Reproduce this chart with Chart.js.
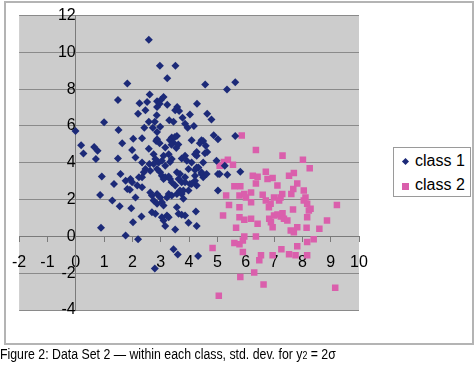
<!DOCTYPE html>
<html>
<head>
<meta charset="utf-8">
<script src="https://cdn.jsdelivr.net/npm/chart.js@4/dist/chart.umd.min.js"></script>
<style>
  body { margin: 0; background: #fff; }
  #wrap { position: relative; width: 475px; height: 366px; }
  #frame { position: absolute; left: 4px; top: 1px; width: 466px; height: 340px; border: 2px solid #b4b4b4; }
  canvas { position: absolute; left: 0; top: 0; }
  #legend { position: absolute; left: 393px; top: 147px; width: 76px; height: 48px; border: 1px solid #9a9a9a; background: #fff;
            font-family: "Liberation Sans", Arial, sans-serif; font-size: 16px; color: #000; }
  #legend div { position: absolute; left: 21px; }
  .dia { position: absolute; left: 9px; top: 11px; width: 5px; height: 5px; background: #1c2a78; transform: rotate(45deg); }
  .sq { position: absolute; left: 8px; top: 35px; width: 7px; height: 7px; background: #da5fac; }
  #caption { position: absolute; left: 0; top: 346px; font-family: "Liberation Sans", Arial, sans-serif;
             font-size: 14px; color: #000; white-space: nowrap; transform: scaleX(0.88); transform-origin: 0 0; }
  #caption small { font-size: 10px; }
</style>
</head>
<body>
<div id="wrap">
  <div id="frame"></div>
  <canvas id="chart" width="475" height="366"></canvas>
  <div id="legend">
    <span class="dia"></span><div style="top:4px">class 1</div>
    <span class="sq"></span><div style="top:28px">class 2</div>
  </div>
  <div id="caption">Figure 2: Data Set 2 — within each class, std. dev. for y<small>2</small> = 2σ</div>
</div>
<script>
// class 1 (diamonds)
const class1X = [2.58, 2.97, 3.52, 3.23, 1.82, 4.57, 5.34, 5.63, 1.49, 2.61, 2.25, 2.52, 2.46, 2.20, 2.87, 3.00, 3.10, 2.96, 2.87, 3.23,
  3.58, 3.51, 3.65, 4.28, 4.03, 4.64, 4.79, 3.77, 3.30, 3.45, 2.86, 2.58, 2.79, 2.42, 2.72, 2.98, 2.87, 3.86, 3.95, 4.17,
  1.00, -0.01, 1.51, 2.03, 2.34, 2.87, 3.39, 3.57, 4.09, 4.44, 4.87, 5.02, 0.19, 0.27, 0.65, 0.77, 0.71, 1.64, 1.99, 1.49,
  2.11, 2.34, 2.58, 2.84, 2.96, 3.16, 3.32, 3.44, 3.38, 3.50, 3.55, 3.62, 4.38, 4.50, 4.59, 4.27, 4.64, 4.97, 3.74, 3.92,
  3.28, 3.10, 2.75, 2.81, 2.93, 2.75, 3.04, 3.16, 3.33, 3.39, 2.46, 2.40, 2.34, 2.60, 2.63, 2.87, 2.98, 3.04, 3.10, 3.16,
  3.28, 3.33, 3.39, 3.57, 3.68, 3.63, 3.74, 3.51, 3.86, 4.03, 4.21, 4.27, 4.44, 4.50, 3.98, 4.21, 4.33, 5.02, 5.02, 1.58,
  1.35, 0.92, 1.76, 1.93, 1.82, 1.99, 2.23, 2.17, 2.34, 2.11, 2.63, 2.69, 2.87, 2.98, 2.75, 2.87, 3.04, 3.22, 3.28, 3.39,
  3.10, 3.57, 3.68, 3.80, 0.86, 1.29, 1.55, 1.96, 2.32, 2.02, 2.69, 2.81, 3.04, 3.22, 3.10, 3.63, 3.74, 3.86, 3.16, 3.51,
  3.98, 4.27, 4.24, 0.89, 1.76, 2.20, 3.45, 3.60, 4.32, 2.79, 5.63, 5.81, 5.35, 5.08, 4.50, 4.27, 4.56, 4.62, 4.44, 4.27,
  4.21, 4.09, 3.98, 3.86, 3.74, 3.80, 3.57, 3.28, 4.21, 3.86, 4.09, 5.26, 1.91];
const class1Y = [10.69, 9.28, 9.28, 8.59, 8.31, 8.25, 7.98, 8.38, 7.41, 7.71, 7.24, 7.30, 6.86, 6.66, 7.35, 7.41, 7.58, 7.21, 7.03, 7.15,
  7.03, 6.85, 6.81, 7.21, 6.63, 6.66, 6.36, 6.45, 6.31, 6.23, 6.59, 6.23, 6.23, 5.91, 5.91, 5.96, 5.68, 6.12, 5.91, 6.00,
  6.20, 5.73, 5.78, 5.31, 5.33, 5.28, 5.37, 5.46, 5.23, 5.23, 5.50, 5.28, 4.96, 4.50, 4.86, 4.65, 4.20, 5.06, 4.70, 4.23,
  4.29, 4.02, 4.77, 5.19, 5.06, 4.83, 5.24, 5.10, 4.98, 5.40, 4.80, 5.00, 5.06, 5.19, 4.92, 4.59, 4.59, 4.11, 4.23, 4.11,
  4.47, 4.38, 4.47, 4.20, 4.02, 3.93, 4.11, 3.84, 4.05, 4.20, 3.66, 3.48, 3.21, 3.93, 3.57, 3.66, 3.48, 3.30, 3.12, 3.21,
  3.26, 3.12, 2.94, 3.48, 3.39, 3.12, 2.94, 2.76, 3.21, 2.85, 3.30, 2.76, 3.39, 3.21, 3.66, 3.61, 3.75, 3.39, 2.49, 3.39,
  2.85, 3.26, 3.03, 3.12, 2.58, 2.94, 3.21, 2.76, 2.67, 2.12, 2.39, 2.22, 2.31, 2.12, 1.95, 1.77, 1.85, 2.12, 2.31, 2.22,
  1.68, 2.31, 2.49, 2.49, 2.25, 1.95, 1.64, 1.53, 1.08, 0.77, 1.31, 1.23, 1.04, 1.14, 0.86, 1.23, 1.17, 1.14, 0.56, 0.38,
  0.74, 0.56, 1.35, 0.47, 0.05, -0.16, -0.70, -0.99, -1.06, -1.75, 5.46, 3.51, 3.35, 3.39, 4.02, 4.38, 4.52, 3.39, 3.48, 3.75,
  3.03, 2.85, 2.49, 2.94, 2.31, 2.04, 1.58, 1.04, 4.47, 4.38, 4.02, 3.84, 2.54];

// class 2 (squares)
const class2X = [6.36, 7.30, 8.02, 8.26, 5.37, 5.23, 5.08, 5.55, 5.86, 6.25, 6.42, 6.36, 6.71, 6.77, 6.95, 7.12, 7.53, 7.70, 7.82, 7.68,
  7.61, 5.60, 5.81, 5.78, 5.95, 6.19, 6.19, 6.60, 6.71, 6.88, 6.82, 7.00, 7.23, 7.29, 7.18, 8.05, 8.11, 8.17, 8.23, 8.29,
  9.22, 7.67, 5.41, 5.20, 5.78, 5.95, 6.19, 6.42, 6.83, 6.89, 7.00, 7.12, 7.24, 7.30, 7.35, 7.47, 6.95, 7.59, 7.70, 7.82,
  8.15, 8.60, 8.87, 5.66, 6.36, 5.95, 5.90, 5.78, 5.60, 5.90, 4.83, 6.54, 6.48, 6.95, 7.26, 7.53, 7.76, 7.82, 8.17, 8.40,
  8.17, 5.81, 6.30, 6.63, 5.05, 9.16, 5.31, 6.01, 5.78, 8.17, 8.05];
const class2Y = [4.69, 4.39, 4.16, 3.71, 4.16, 4.05, 3.84, 3.89, 5.48, 3.30, 3.24, 2.88, 3.51, 3.12, 3.17, 2.76, 3.30, 3.44, 2.88, 2.58,
  2.31, 2.72, 2.72, 2.22, 2.31, 2.39, 1.85, 2.27, 1.95, 1.77, 1.58, 2.12, 2.12, 2.31, 1.95, 2.49, 2.12, 1.77, 1.41, 1.50,
  1.71, 1.46, 1.71, 1.14, 1.04, 0.90, 0.96, 0.69, 0.96, 0.77, 1.14, 1.19, 1.08, 1.26, 0.96, 0.86, 0.50, 0.32, 0.23, 0.50,
  0.47, 0.42, 0.86, 0.47, 0.00, 0.00, -0.22, -0.43, -0.36, -0.85, -0.63, -1.03, -1.30, -1.03, -0.70, -0.97, -1.03, -0.54, -0.31, -0.16,
  -1.03, -2.20, -1.96, -2.61, -3.22, -2.79, 2.22, 2.12, 1.58, 1.04, 1.95];

const seriesNames = ['class 1', 'class 2'];
const xTicks = { min: -2, max: 10, step: 1 };
const yTicks = { min: -4, max: 12, step: 2 };

function toPoints(xs, ys) {
    return xs.map((x, i) => ({ x: x, y: ys[i] }));
}

// fondo gris del area de trazado
const plotBackground = {
    id: 'plotBackground',
    beforeDraw(chart) {
        const { ctx, chartArea } = chart;
        ctx.save();
        ctx.fillStyle = '#cccccc';
        ctx.fillRect(chartArea.left, chartArea.top, chartArea.right - chartArea.left, chartArea.bottom - chartArea.top);
        ctx.restore();
    }
};

const tickFont = { family: '"Liberation Sans", Arial, sans-serif', size: 16 };

const ctx = document.getElementById('chart').getContext('2d');
const chart = new Chart(ctx, {
    type: 'scatter',
    data: {
        datasets: [{
            label: seriesNames[0],
            data: toPoints(class1X, class1Y),
            pointStyle: 'rectRot',
            pointRadius: 4,
            backgroundColor: '#1c2a78',
            borderColor: '#1c2a78',
            borderWidth: 0
        }, {
            label: seriesNames[1],
            data: toPoints(class2X, class2Y),
            pointStyle: 'rect',
            pointRadius: 4.6,
            backgroundColor: '#da5fac',
            borderColor: '#da5fac',
            borderWidth: 0
        }]
    },
    options: {
        responsive: false,
        animation: false,
        layout: { padding: { left: 16, top: 13, right: 116, bottom: 56 } },
        plugins: {
            legend: { display: false },
            tooltip: { enabled: false }
        },
        scales: {
            x: {
                type: 'linear',
                min: xTicks.min,
                max: xTicks.max,
                position: { y: 0 },
                ticks: { stepSize: xTicks.step, autoSkip: false, maxRotation: 0, color: '#000', font: tickFont, padding: 12 },
                grid: { drawOnChartArea: false, color: '#7a7a7a', tickLength: 5 },
                border: { color: '#7a7a7a' }
            },
            y: {
                type: 'linear',
                min: yTicks.min,
                max: yTicks.max,
                position: { x: 0 },
                ticks: { stepSize: yTicks.step, autoSkip: false, color: '#000', font: tickFont, padding: 6 },
                grid: { color: '#8a8a8a', tickLength: 6 },
                border: { color: '#7a7a7a' }
            }
        }
    },
    plugins: [plotBackground]
});
</script>
</body>
</html>
